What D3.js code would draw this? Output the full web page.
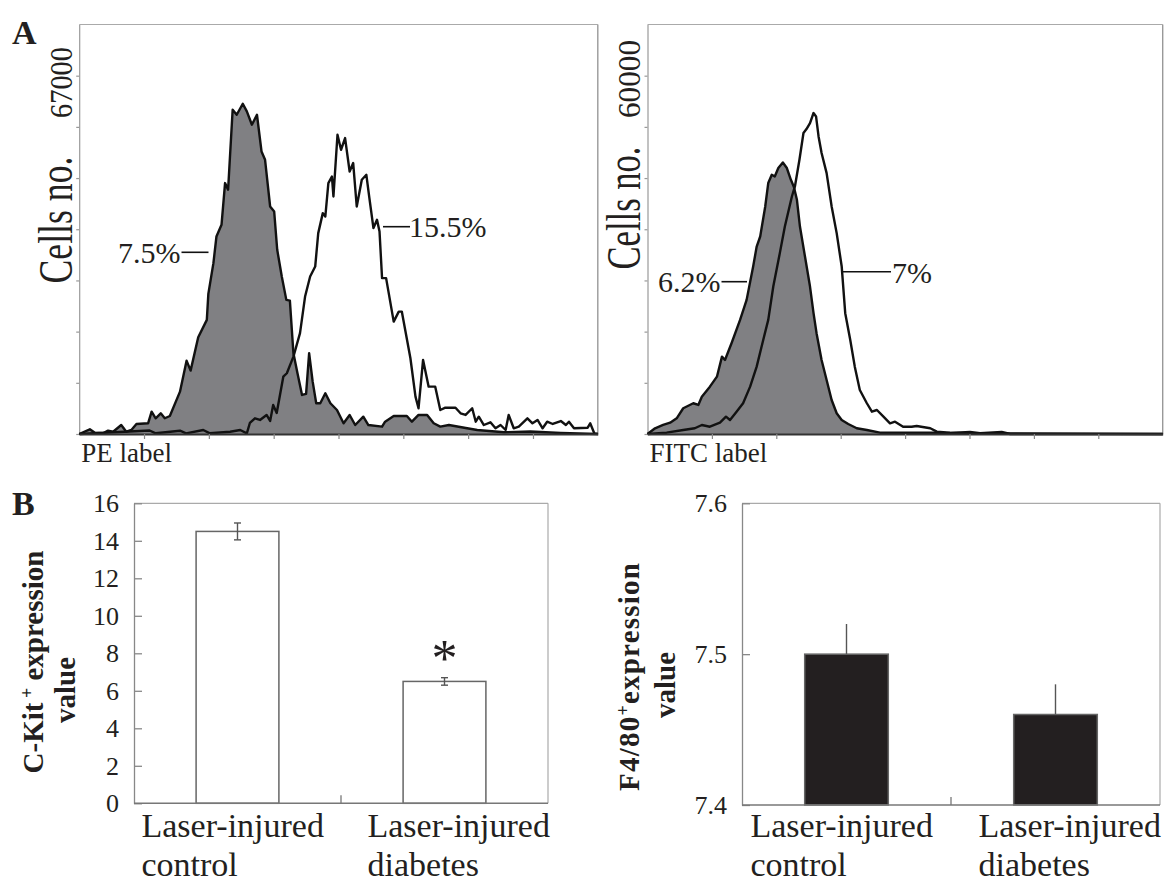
<!DOCTYPE html>
<html><head><meta charset="utf-8">
<script src="https://cdn.jsdelivr.net/npm/d3@7"></script>
<style>
body{margin:0;background:#fff}
svg{display:block}
text{font-family:"Liberation Serif","Times New Roman",serif;fill:#231f20}
</style>
</head><body>
<svg id="c" width="1164" height="883"></svg>
<script>
// ---------- DATA ----------
// Panel A, left: PE channel (0-1024) vs cell counts
const peCtrlX = [0,21,31,47,57,67,83,93,103,113,136,143,151,161,169,179,199,212,220,235,252,255,265,271,281,288,294,303,311,323,331,341,351,360,367,377,385,391,400,409,416,423,431,440,448,454,461,468,476,486,496,509,522,534,545,561,571,598,604,621,647,657,670,687,700,713,730,766,786,839,891,951,1024];
const peCtrlY = [0,880,240,130,620,430,1680,430,750,1870,2000,4170,2940,3870,2940,3370,7920,13720,11850,18100,21340,26200,31950,36930,39110,46920,45670,60640,59700,61760,60320,57830,59700,52830,51280,42540,41600,34440,29440,25080,24950,15100,11360,7300,7490,15100,9790,5750,5750,7620,5750,4490,2000,3560,1680,3240,1680,1370,2300,3370,3370,2300,3560,3560,2000,1370,1680,1070,750,320,470,190,0];
const peDiabX = [0,139,151,199,211,245,258,298,318,331,337,347,357,370,377,383,390,403,410,423,436,446,456,466,472,481,486,492,499,502,510,517,525,534,541,548,558,567,573,581,588,593,598,606,621,631,637,654,664,670,679,690,703,713,723,743,753,763,776,783,789,799,812,822,832,842,848,858,868,885,895,905,915,924,935,951,961,967,977,1004,1009,1017,1024];
const peDiabY = [0,650,130,620,130,750,130,430,750,130,2060,2940,2620,3560,2430,5430,3930,10720,11360,14470,18850,25700,29440,31310,37560,41300,40670,46920,48150,44410,55960,53150,55340,49090,50660,42540,47540,48470,44110,38500,40050,37860,29140,29140,21020,22890,22890,14170,6980,4810,13850,8850,8850,4490,4920,4920,3870,3560,4810,2300,3240,1680,2190,1070,1680,750,3560,1070,1370,2940,2000,2620,1070,2300,1870,2430,1680,2300,1070,1180,2000,130,0];
// Panel A, right: FITC channel vs cell counts
const fitcCtrlX = [0,15,31,45,58,71,91,101,108,124,138,148,154,167,184,197,210,217,224,234,240,247,253,260,269,277,285,291,297,303,313,323,330,336,346,356,366,376,386,399,416,436,462,502,568,595,641,661,704,721,1024];
const fitcCtrlY = [0,960,1510,1890,2630,4310,5150,4860,6250,7930,9600,12960,12400,15200,19110,22460,28040,31390,33070,38100,42020,43410,43120,44530,45470,44530,42570,41350,39220,34740,29720,24690,20230,16880,12400,9050,5700,3470,2350,1680,960,670,220,220,220,120,340,120,340,0,0];
const fitcDiabX = [0,38,71,94,108,124,144,156,164,177,190,204,217,230,240,250,263,273,287,293,302,310,316,323,330,335,340,346,356,366,376,386,393,403,412,422,436,446,456,469,482,492,508,525,535,562,575,601,634,1024];
const fitcDiabY = [0,220,670,960,1510,1220,1890,2900,2350,3740,5150,7930,11280,15750,19110,24690,30290,34740,39770,41450,45920,50400,51070,52070,53750,53180,49830,47050,43690,38100,33640,28040,20230,15750,11280,7370,5150,3740,4020,2900,1790,2060,1220,1220,1340,960,390,220,120,0];
const peTickMax = 67000, fitcTickMax = 60000;
const peLabels = ["7.5%", "15.5%"], fitcLabels = ["6.2%", "7%"];

// Panel B
const groups = [["Laser-injured","control"],["Laser-injured","diabetes"]];
const groupKeys = ["control","diabetes"];
const ckitValues = [14.5, 6.5];
const ckitErrors = [0.45, 0.2];
const ckitTicks = [0,2,4,6,8,10,12,14,16];
const f480Values = [7.50, 7.46];
const f480Errors = [0.02, 0.02];
const f480Ticks = [7.4, 7.5, 7.6];

// ---------- DRAW ----------
const svg = d3.select("#c");
svg.append("rect").attr("width",1164).attr("height",883).attr("fill","#fff");

function histPanel(o){
  const g = svg.append("g");
  const x = d3.scaleLinear().domain([0,1024]).range([o.left,o.right]);
  const y = d3.scaleLinear().domain([0,o.tickMax*8/7]).range([o.bottom,o.top]);
  const ctrl = o.cx.map((v,i)=>[v,o.cy[i]]);
  const diab = o.dx.map((v,i)=>[v,o.dy[i]]);
  g.append("line").attr("x1",o.left).attr("x2",o.right).attr("y1",o.top).attr("y2",o.top).attr("stroke","#aaa").attr("stroke-width",1.2);
  g.append("line").attr("x1",o.right).attr("x2",o.right).attr("y1",o.top).attr("y2",o.bottom).attr("stroke","#999").attr("stroke-width",1.4);
  const ya = g.append("g").attr("transform",`translate(${o.left},0)`)
    .call(d3.axisLeft(y).tickValues(d3.range(0,8).map(i=>i*o.tickMax/7)).tickSize(3).tickSizeOuter(0).tickFormat(""));
  ya.selectAll("path,line").attr("stroke","#999").attr("stroke-width",1.2);
  g.append("path").datum(ctrl)
    .attr("d", d3.area().x(d=>x(d[0])).y0(y(0)).y1(d=>y(d[1])))
    .attr("fill","#808083");
  const line = d3.line().x(d=>x(d[0])).y(d=>y(d[1]));
  g.append("path").datum(ctrl).attr("d",line).attr("fill","none").attr("stroke","#111").attr("stroke-width",2.4).attr("stroke-linejoin","round");
  g.append("path").datum(diab).attr("d",line).attr("fill","none").attr("stroke","#111").attr("stroke-width",2.4).attr("stroke-linejoin","round");
  const xa = g.append("g").attr("transform",`translate(0,${o.bottom})`)
    .call(d3.axisBottom(x).tickValues(d3.range(128,1024,128)).tickSize(5).tickSizeOuter(0).tickFormat(""));
  xa.select("path").attr("stroke","#333").attr("stroke-width",2.2);
  xa.selectAll("line").attr("stroke","#888").attr("stroke-width",1.2);
  g.append("text").attr("transform",`translate(${o.left-7.5},${o.tickLabelY}) rotate(-90)`)
    .attr("text-anchor","middle").attr("font-size",32).attr("textLength",o.tickLabelLen).attr("lengthAdjust","spacingAndGlyphs").text(o.tickMax);
  g.append("text").attr("transform",`translate(${o.left-7.5},${o.titleY}) rotate(-90)`)
    .attr("text-anchor","middle").attr("font-size",48).attr("textLength",o.titleLen).attr("lengthAdjust","spacingAndGlyphs").text("Cells no.");
  g.append("text").attr("x",o.left+2).attr("y",461.5).attr("font-size",27).text(o.xLabel);
  o.ann.forEach(a=>{
    g.append("line").attr("x1",a.l1).attr("x2",a.l2).attr("y1",a.ly).attr("y2",a.ly).attr("stroke","#111").attr("stroke-width",1.6);
    g.append("text").attr("x",a.tx).attr("y",a.ty).attr("text-anchor",a.anchor).attr("font-size",30).text(a.text);
  });
}

histPanel({left:79.2,right:597.8,top:24.5,bottom:434,tickMax:peTickMax,cx:peCtrlX,cy:peCtrlY,dx:peDiabX,dy:peDiabY,
  tickLabelY:82.5,tickLabelLen:71,titleY:220,titleLen:127,xLabel:"PE label",
  ann:[{text:peLabels[0],l1:181.5,l2:208.5,ly:252.3,tx:180.5,ty:263,anchor:"end"},
       {text:peLabels[1],l1:383,l2:410,ly:226.7,tx:409,ty:236.7,anchor:"start"}]});
histPanel({left:647.5,right:1162.7,top:24.5,bottom:434,tickMax:fitcTickMax,cx:fitcCtrlX,cy:fitcCtrlY,dx:fitcDiabX,dy:fitcDiabY,
  tickLabelY:79,tickLabelLen:78,titleY:208,titleLen:123,xLabel:"FITC label",
  ann:[{text:fitcLabels[0],l1:721.5,l2:747,ly:281.7,tx:720.5,ty:291.7,anchor:"end"},
       {text:fitcLabels[1],l1:842,l2:891,ly:271.7,tx:892,ty:283,anchor:"start"}]});

svg.append("text").attr("x",12).attr("y",44).attr("font-size",34).attr("font-weight","bold").text("A");
svg.append("text").attr("x",12).attr("y",515).attr("font-size",34).attr("font-weight","bold").text("B");

function barPanel(o){
  const g = svg.append("g");
  const x = d3.scaleBand().domain(groupKeys).range([o.left,o.right]).paddingInner(0.6).paddingOuter(0.3);
  const y = d3.scaleLinear().domain([o.ticks[0],o.ticks[o.ticks.length-1]]).range([o.bottom,o.top]);
  g.append("line").attr("x1",o.left).attr("x2",o.right).attr("y1",o.top).attr("y2",o.top).attr("stroke","#aaa").attr("stroke-width",1.2);
  g.append("line").attr("x1",o.right).attr("x2",o.right).attr("y1",o.top).attr("y2",o.bottom).attr("stroke","#aaa").attr("stroke-width",1.2);
  const ya = g.append("g").attr("transform",`translate(${o.left},0)`)
    .call(d3.axisLeft(y).tickValues(o.ticks).tickSize(-8).tickSizeOuter(0).tickPadding(15).tickFormat(o.fmt));
  ya.selectAll("path,line").attr("stroke","#888").attr("stroke-width",1.3);
  ya.selectAll("text").attr("font-size",26).attr("font-family",'"Liberation Serif","Times New Roman",serif').attr("fill","#231f20");
  g.selectAll("rect.bar").data(o.values).join("rect")
    .attr("x",(d,i)=>x(groupKeys[i])).attr("width",x.bandwidth())
    .attr("y",d=>y(d)).attr("height",d=>o.bottom-y(d))
    .attr("fill",o.fill).attr("stroke","#666").attr("stroke-width",1.5);
  o.values.forEach((v,i)=>{
    const cx = x(groupKeys[i])+x.bandwidth()/2;
    const lo = o.capBelow ? v-o.errors[i] : v;
    g.append("line").attr("x1",cx).attr("x2",cx).attr("y1",y(v+o.errors[i])).attr("y2",y(lo)).attr("stroke","#555").attr("stroke-width",1.4);
    if(o.cap){
      [v+o.errors[i], v-o.errors[i]].forEach(e=>g.append("line").attr("x1",cx-3.5).attr("x2",cx+3.5).attr("y1",y(e)).attr("y2",y(e)).attr("stroke","#555").attr("stroke-width",1.4));
    }
  });
  g.append("line").attr("x1",o.left).attr("x2",o.right).attr("y1",o.bottom).attr("y2",o.bottom).attr("stroke","#777").attr("stroke-width",1.6);
  const mid = (x(groupKeys[0])+x.bandwidth()+x(groupKeys[1]))/2;
  g.append("line").attr("x1",mid).attr("x2",mid).attr("y1",o.bottom).attr("y2",o.bottom-8).attr("stroke","#777").attr("stroke-width",1.3);
  const offs = [-96,-77];
  groups.forEach((lines,i)=>{
    const cx = x(groupKeys[i])+x.bandwidth()/2 + offs[i];
    const t = g.append("text").attr("font-size",34);
    lines.forEach((s,j)=>t.append("tspan").attr("x",cx).attr("y",836.5+j*39.5).text(s));
  });
  const t1 = g.append("text").attr("transform",`translate(${o.t1x},${o.t1y}) rotate(-90)`)
    .attr("text-anchor","middle").attr("font-size",29).attr("font-weight","bold");
  if(o.t1len) t1.attr("textLength",o.t1len).attr("lengthAdjust","spacing");
  t1.append("tspan").text(o.title[0]);
  t1.append("tspan").attr("baseline-shift","super").attr("font-size",18).text(o.title[1]);
  t1.append("tspan").text(o.title[2]);
  g.append("text").attr("transform",`translate(${o.t2x},${o.t2y}) rotate(-90)`)
    .attr("text-anchor","middle").attr("font-size",29).attr("font-weight","bold").text("value");
  if(o.star){
    const i = 1, cx = x(groupKeys[i])+x.bandwidth()/2;
    g.append("text").attr("x",cx).attr("y",y(o.values[i]+o.errors[i])-2).attr("text-anchor","middle")
      .attr("font-size",52).text("*");
  }
}

barPanel({left:134,right:548,top:503.3,bottom:803.3,ticks:ckitTicks,fmt:d3.format("d"),values:ckitValues,errors:ckitErrors,
  fill:"#fff",cap:true,capBelow:true,star:true,title:["C-Kit"," +"," expression"],t1x:43,t1y:662,t2x:75,t2y:690});
barPanel({left:742,right:1160,top:503.3,bottom:805,ticks:f480Ticks,fmt:d3.format(".1f"),values:f480Values,errors:f480Errors,
  fill:"#231f20",cap:false,capBelow:false,star:false,title:["F4/80","+","expression"],t1x:639,t1y:677,t1len:228,t2x:675,t2y:685});
</script>
</body></html>
